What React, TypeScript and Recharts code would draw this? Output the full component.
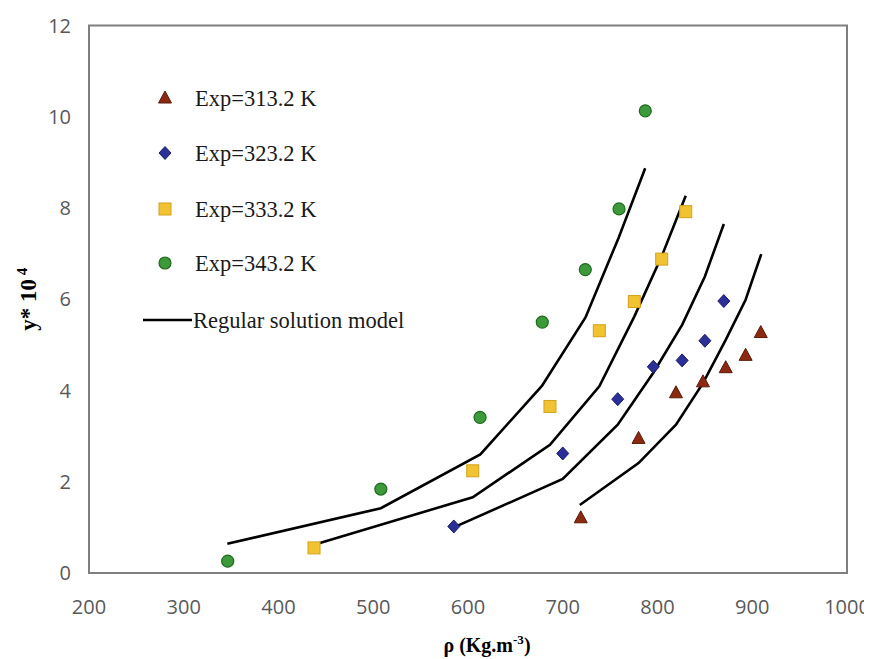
import React from "react"
import { ComposedChart, Scatter, XAxis, YAxis, Legend, ReferenceArea, Label } from "recharts"

const rho313 = [719, 780, 819.5, 848, 872, 893, 909]
const y313 = [1.21, 2.95, 3.95, 4.19, 4.5, 4.77, 5.27]
const rho323 = [585, 700, 758, 795.6, 826, 850, 870]
const y323 = [1.02, 2.62, 3.81, 4.52, 4.66, 5.09, 5.96]
const rho333 = [437.5, 605, 686.5, 738.6, 775.5, 804.4, 829.8]
const y333 = [0.55, 2.24, 3.65, 5.31, 5.95, 6.88, 7.92]
const rho343 = [346.4, 508, 612.7, 678.4, 723.8, 759.4, 787.1]
const y343 = [0.26, 1.84, 3.41, 5.5, 6.65, 7.98, 10.13]

// regular solution model curves
const modelRho313 = [718, 780, 819.5, 848, 872, 893, 909.5]
const modelY313 = [1.49, 2.41, 3.25, 4.16, 5.11, 5.99, 6.99]
const modelRho323 = [585, 700, 758, 795.6, 826, 850, 870]
const modelY323 = [1.0, 2.06, 3.25, 4.39, 5.44, 6.5, 7.65]
const modelRho333 = [437.5, 605, 686.5, 738.6, 775.5, 804.4, 829.8]
const modelY333 = [0.62, 1.66, 2.81, 4.09, 5.62, 6.94, 8.27]
const modelRho343 = [346, 508, 613, 678, 724, 759, 787]
const modelY343 = [0.64, 1.42, 2.6, 4.1, 5.6, 7.35, 8.87]

const xTicks = [200, 300, 400, 500, 600, 700, 800, 900, 1000]
const yTicks = [0, 2, 4, 6, 8, 10, 12]

const legendLabels = ["Exp=313.2 K", "Exp=323.2 K", "Exp=333.2 K", "Exp=343.2 K", "Regular solution model"]

const toPoints = (xs: number[], ys: number[]) => xs.map((x, i) => ({ x, y: ys[i] }))

const triangle = (cx: number, cy: number) => (
  <polygon points={`${cx},${cy - 7} ${cx + 6.5},${cy + 5} ${cx - 6.5},${cy + 5}`} fill="#8b2a10" stroke="#5a1a08" strokeWidth={1} />
)
const diamond = (cx: number, cy: number) => (
  <polygon points={`${cx},${cy - 6.5} ${cx + 6},${cy} ${cx},${cy + 6.5} ${cx - 6},${cy}`} fill="#2b2f96" stroke="#1a1c66" strokeWidth={1} />
)
const square = (cx: number, cy: number) => (
  <rect x={cx - 6} y={cy - 6} width={12} height={12} fill="#f1c232" stroke="#d4a21a" strokeWidth={1} />
)
const circle = (cx: number, cy: number) => (
  <circle cx={cx} cy={cy} r={6} fill="#3d9a3a" stroke="#1f6a1f" strokeWidth={1.2} />
)

const markers = [triangle, diamond, square, circle]

const renderLegend = () => {
  const rows = [20, 75, 131, 185, 242]
  return (
    <svg width={330} height={270}>
      {markers.map((m, i) => (
        <g key={i}>
          {m(37, rows[i])}
          <text x={67} y={rows[i]} dy="0.35em" fontFamily="'Liberation Serif', serif" fontSize={22.5} fill="#1a1a1a">
            {legendLabels[i]}
          </text>
        </g>
      ))}
      <line x1={15} x2={64} y1={rows[4]} y2={rows[4]} stroke="#000" strokeWidth={2.5} />
      <text x={65} y={rows[4]} dy="0.35em" fontFamily="'Liberation Serif', serif" fontSize={22.5} fill="#1a1a1a">
        {legendLabels[4]}
      </text>
    </svg>
  )
}

const renderXTitle = (props: any) => {
  const { x, width } = props.viewBox
  return (
    <text x={x + width / 2 + 19} y={644} textAnchor="middle" fontFamily="'Liberation Serif', serif" fontWeight="bold" fontSize={20} fill="#000">
      ρ (Kg.m
      <tspan dy={-8} fontSize={13}>-3</tspan>
      <tspan dy={8}>)</tspan>
    </text>
  )
}

const renderYTitle = (props: any) => {
  const { y, height } = props.viewBox
  const cy = y + height / 2
  return (
    <text x={28} y={cy} transform={`rotate(-90, 28, ${cy})`} textAnchor="middle" fontFamily="'Liberation Serif', serif" fontWeight="bold" fontSize={23} fill="#000">
      y* 10
      <tspan dy={-9} fontSize={15}> 4</tspan>
    </text>
  )
}

const tickStyle = { fontFamily: "'Open Sans', sans-serif", fontSize: 20, fill: "#595959" }

const lineShape = () => <g />

export default function App() {
  return (
    <ComposedChart width={864} height={651} margin={{ top: 17.5, right: 25, bottom: 26, left: 0 }}>
      <XAxis
        type="number"
        dataKey="x"
        domain={[200, 1000]}
        ticks={xTicks}
        tick={tickStyle}
        axisLine={false}
        tickLine={false}
        tickSize={8}
        tickMargin={19}
        height={60}
        allowDataOverflow
      >
        <Label content={renderXTitle} />
      </XAxis>
      <YAxis
        type="number"
        dataKey="y"
        domain={[0, 12]}
        ticks={yTicks}
        tick={tickStyle}
        axisLine={false}
        tickLine={false}
        tickSize={8}
        tickMargin={10}
        width={81}
      >
        <Label content={renderYTitle} />
      </YAxis>
      <ReferenceArea x1={200} x2={1000} y1={0} y2={12} fill="none" stroke="#7f7f7f" strokeWidth={2} />
      <Legend
        content={renderLegend}
        layout="vertical"
        align="center"
        verticalAlign="middle"
        wrapperStyle={{ left: 120, top: 70, width: 330, height: 270 }}
      />
      <Scatter data={toPoints(modelRho343, modelY343)} line={{ stroke: "#000", strokeWidth: 2.6 }} shape={lineShape} isAnimationActive={false} />
      <Scatter data={toPoints(modelRho333, modelY333)} line={{ stroke: "#000", strokeWidth: 2.6 }} shape={lineShape} isAnimationActive={false} />
      <Scatter data={toPoints(modelRho323, modelY323)} line={{ stroke: "#000", strokeWidth: 2.6 }} shape={lineShape} isAnimationActive={false} />
      <Scatter data={toPoints(modelRho313, modelY313)} line={{ stroke: "#000", strokeWidth: 2.6 }} shape={lineShape} isAnimationActive={false} />
      <Scatter data={toPoints(rho313, y313)} shape={(p: any) => triangle(p.cx, p.cy)} isAnimationActive={false} />
      <Scatter data={toPoints(rho323, y323)} shape={(p: any) => diamond(p.cx, p.cy)} isAnimationActive={false} />
      <Scatter data={toPoints(rho333, y333)} shape={(p: any) => square(p.cx, p.cy)} isAnimationActive={false} />
      <Scatter data={toPoints(rho343, y343)} shape={(p: any) => circle(p.cx, p.cy)} isAnimationActive={false} />
    </ComposedChart>
  )
}
